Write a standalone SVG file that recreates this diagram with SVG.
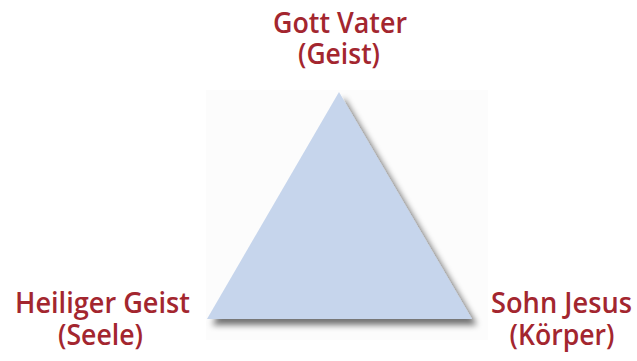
<svg xmlns="http://www.w3.org/2000/svg" width="637" height="361" viewBox="0 0 637 361">
<style>
.lbl{font-family:"Open Sans","Noto Sans","Liberation Sans",sans-serif;font-weight:600;font-size:28px;fill:#a3262f;text-anchor:middle}
</style>
<defs>
<filter id="sh" x="-20%" y="-20%" width="150%" height="150%">
<feGaussianBlur in="SourceAlpha" stdDeviation="3"/>
<feOffset dx="5" dy="6" result="b"/>
<feComponentTransfer><feFuncA type="linear" slope="0.55"/></feComponentTransfer>
<feMerge><feMergeNode/><feMergeNode in="SourceGraphic"/></feMerge>
</filter>
</defs>
<rect width="637" height="361" fill="#ffffff"/>
<rect x="206" y="90" width="282" height="250" fill="#fcfcfc"/>
<g id="triangle">
<polygon points="339,92 207,319 472,319" fill="#c6d5ec" filter="url(#sh)"/>
</g>
<g id="gott-vater">
<text class="lbl" x="340" y="33" textLength="134" lengthAdjust="spacingAndGlyphs">Gott Vater</text>
<text class="lbl" x="339" y="64" textLength="82" lengthAdjust="spacingAndGlyphs">(Geist)</text>
</g>
<g id="heiliger-geist">
<text class="lbl" x="102.5" y="313" textLength="175" lengthAdjust="spacingAndGlyphs">Heiliger Geist</text>
<text class="lbl" x="100.5" y="345" textLength="85" lengthAdjust="spacingAndGlyphs">(Seele)</text>
</g>
<g id="sohn-jesus">
<text class="lbl" x="561.5" y="313" textLength="141" lengthAdjust="spacingAndGlyphs">Sohn Jesus</text>
<text class="lbl" x="562" y="345" textLength="105" lengthAdjust="spacingAndGlyphs">(Körper)</text>
</g>
<g id="connectors"/>
</svg>
